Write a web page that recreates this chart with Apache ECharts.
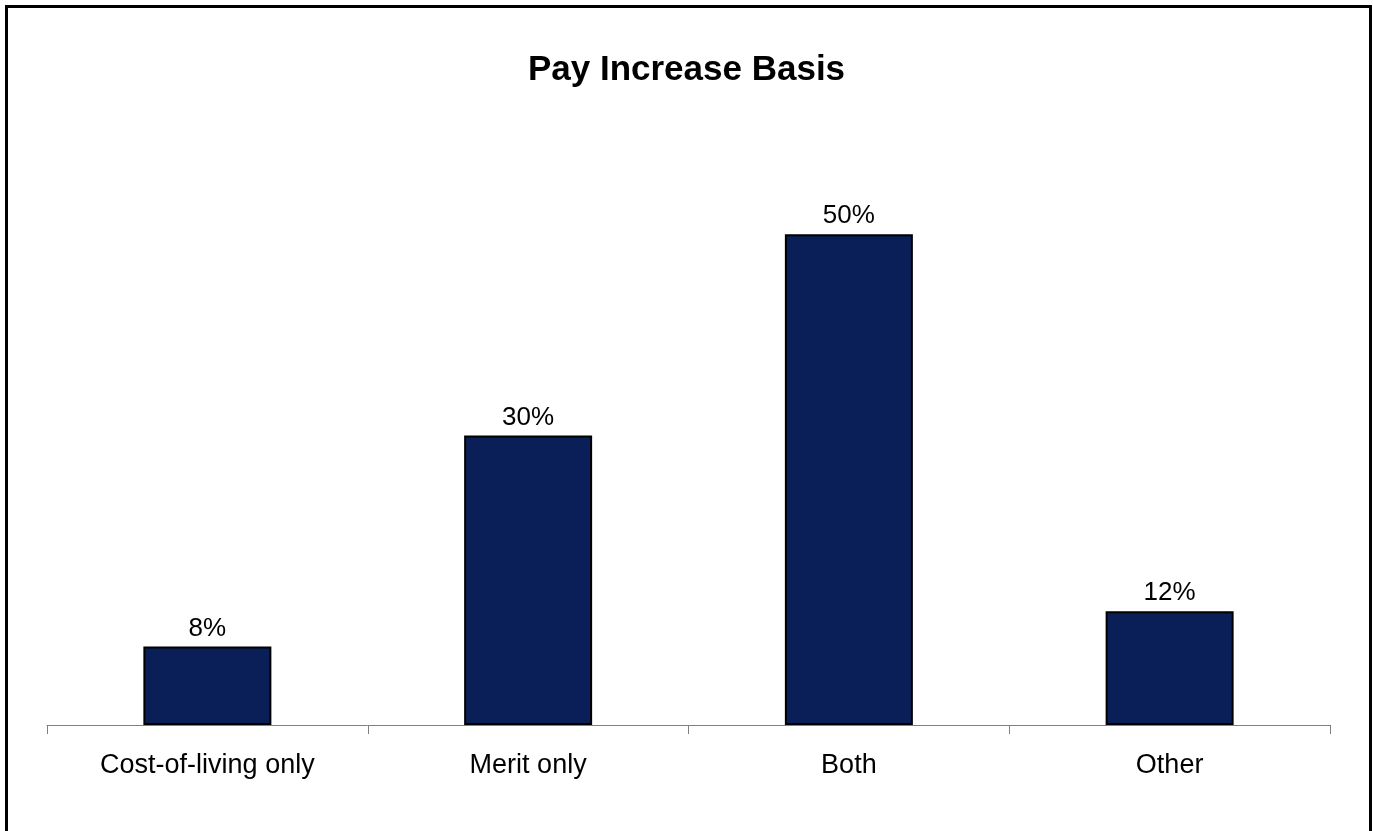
<!DOCTYPE html>
<html>
<head>
<meta charset="utf-8">
<script src="https://cdn.jsdelivr.net/npm/echarts@6/dist/echarts.min.js"></script>
<style>
html, body { margin: 0; padding: 0; background: #fff; }
#main { width: 1373px; height: 831px; }
</style>
</head>
<body>
<div id="main"></div>
<script>
// 数据
var categories = ['Cost-of-living only', 'Merit only', 'Both', 'Other'];
var values = [0.08, 0.295, 0.50, 0.116];
var titleText = 'Pay Increase Basis';

var fontFamily = 'Arial, "Liberation Sans", sans-serif';

var myChart = echarts.init(document.getElementById('main'));

var option = {
	backgroundColor: '#fff',
	animation: false,
	title: {
		text: titleText,
		left: 'center',
		top: 48,
		textStyle: {
			fontFamily: fontFamily,
			fontSize: 35,
			fontWeight: 'bold',
			color: '#000'
		}
	},
	grid: {
		left: 47,
		right: 43,
		top: 136,
		bottom: 106
	},
	xAxis: {
		type: 'category',
		data: categories,
		axisLine: {
			lineStyle: { color: '#808080', width: 1 }
		},
		axisTick: {
			show: true,
			length: 9,
			lineStyle: { color: '#808080' }
		},
		axisLabel: {
			margin: 27,
			fontFamily: fontFamily,
			fontSize: 27,
			color: '#000'
		}
	},
	yAxis: {
		type: 'value',
		min: 0,
		max: 0.6,
		show: false
	},
	series: [{
		type: 'bar',
		data: values,
		barWidth: 128,
		itemStyle: {
			color: '#0a1e57',
			borderColor: '#000',
			borderWidth: 2
		},
		label: {
			show: true,
			position: 'top',
			distance: 5,
			fontFamily: fontFamily,
			fontSize: 26,
			color: '#000',
			formatter: function (p) {
				return Math.round(p.value * 100) + '%';
			}
		}
	}],
	graphic: [{
		type: 'rect', // 外边框
		silent: true,
		shape: { x: 6.5, y: 6.5, width: 1364, height: 840 },
		style: { fill: 'none', stroke: '#000', lineWidth: 3 }
	}]
};

myChart.setOption(option);
</script>
</body>
</html>
